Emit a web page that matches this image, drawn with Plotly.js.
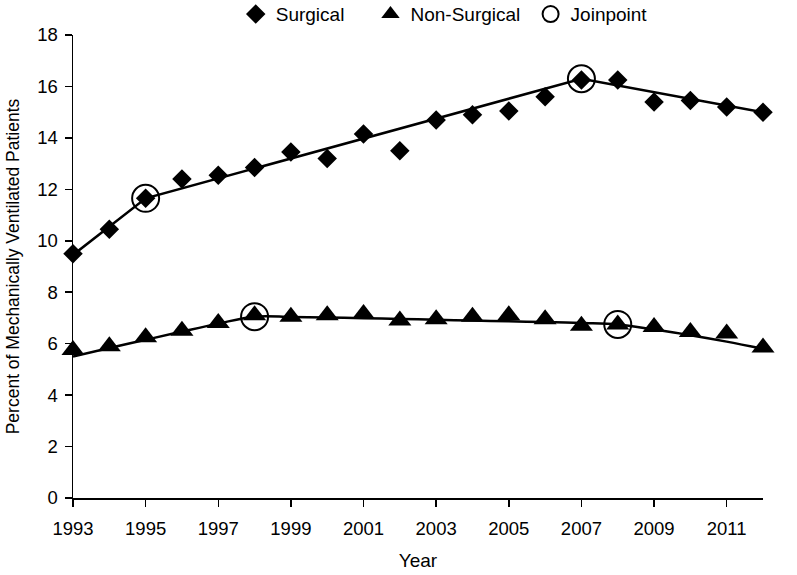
<!DOCTYPE html>
<html><head><meta charset="utf-8">
<script src="https://cdn.plot.ly/plotly-3.0.1.min.js"></script>
<style>body{margin:0;background:#fff}#chart{width:797px;height:575px}</style>
</head><body><div id="chart"></div>
<script>
const years = [1993,1994,1995,1996,1997,1998,1999,2000,2001,2002,2003,2004,2005,2006,2007,2008,2009,2010,2011,2012];
const surgical = [9.5,10.45,11.65,12.4,12.55,12.85,13.45,13.2,14.15,13.5,14.7,14.9,15.05,15.6,16.25,16.25,15.4,15.45,15.2,15.0];
const nonSurgical = [5.75,5.9,6.25,6.5,6.8,7.1,7.05,7.1,7.15,6.9,6.95,7.05,7.1,6.95,6.7,6.75,6.65,6.45,6.4,5.85];
const surgFitYears = [1993,1995,2007,2012];
const surgFit = [9.45,11.65,16.3,15.0];
const nonSurgFit = [5.5,5.83,6.15,6.47,6.78,7.05,7.04,7.02,6.99,6.96,6.93,6.9,6.87,6.84,6.8,6.75,6.55,6.33,6.08,5.8];
const joinYears = [1995,2007,1998,2008];
const joinValues = [11.65,16.3,7.05,6.75];
const xTicks = [1993,1995,1997,1999,2001,2003,2005,2007,2009,2011];
const yTicks = [0,2,4,6,8,10,12,14,16,18];

const traces = [
  {x: surgFitYears, y: surgFit, mode:'lines', line:{color:'#000', width:2.5}, showlegend:false, hoverinfo:'skip', cliponaxis:false},
  {x: years, y: nonSurgFit, mode:'lines', line:{color:'#000', width:2.5, shape:'spline'}, showlegend:false, hoverinfo:'skip', cliponaxis:false},
  {x: years, y: surgical, mode:'markers', name:'Surgical\u00a0\u00a0\u00a0\u00a0', marker:{symbol:'diamond', size:15, color:'#000'}, cliponaxis:false},
  {x: years, y: nonSurgical, mode:'markers', name:'Non-Surgical\u00a0', marker:{symbol:'triangle-up', size:20, color:'#000'}, cliponaxis:false},
  {x: joinYears, y: joinValues, mode:'markers', name:'Joinpoint', marker:{symbol:'circle-open', size:27, color:'#000', line:{width:2, color:'#000'}}, cliponaxis:false}
];

const fam = '"Liberation Sans", Arial, sans-serif';
const tf = {family:fam, size:18.5, color:'#000'};
const layout = {
  width:797, height:575,
  margin:{l:73, r:34, t:35, b:77, autoexpand:false},
  paper_bgcolor:'#fff', plot_bgcolor:'#fff',
  font:{family:fam, size:17, color:'#000'},
  showlegend:true,
  legend:{orientation:'h', x:0.538, xanchor:'center', y:1.045, yanchor:'middle', font:{size:19}, traceorder:'normal', itemwidth:30},
  xaxis:{range:[1993,2012], tickvals:xTicks, ticktext:xTicks.map(String), showline:true, linecolor:'#000', linewidth:1.5,
         ticks:'outside', ticklen:7, tickcolor:'#000', tickwidth:1.5, showgrid:false, zeroline:false, tickfont:tf, ticklabelstandoff:6,
         title:{text:'Year', font:{size:19}, standoff:16}},
  yaxis:{range:[0,18], tickvals:yTicks, showline:true, linecolor:'#000', linewidth:1.5,
         ticks:'outside', ticklen:7, tickcolor:'#000', tickwidth:1.5, showgrid:false, zeroline:false, tickfont:tf, ticklabelstandoff:3,
         title:{text:'Percent of Mechanically Ventilated Patients', font:{size:17.5}, standoff:13}}
};
Plotly.newPlot('chart', traces, layout, {displayModeBar:false, staticPlot:true});
</script></body></html>
